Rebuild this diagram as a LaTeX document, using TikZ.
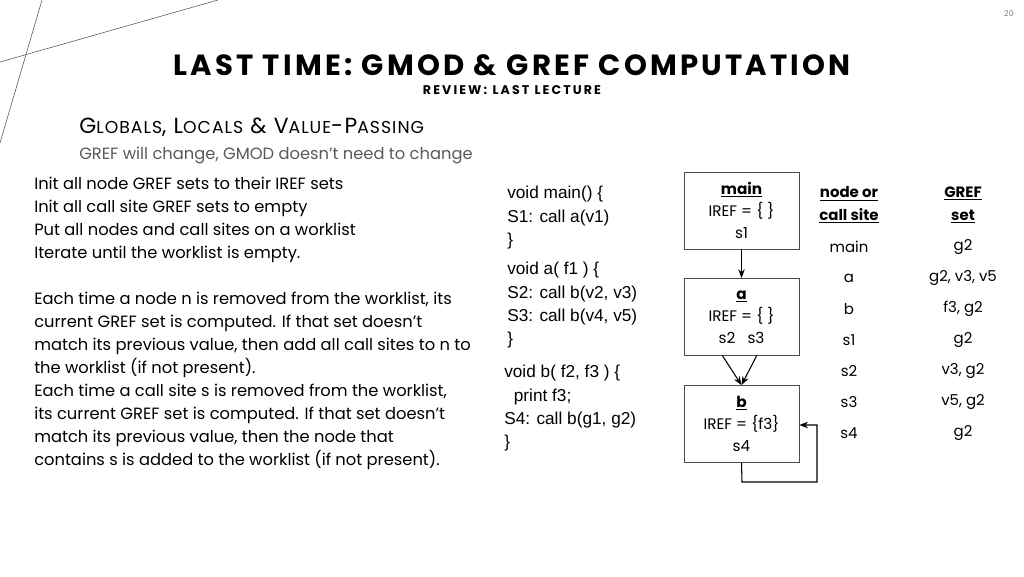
\documentclass[tikz,border=0pt]{standalone}
\usepackage{fontspec}
\setmainfont{Poppins}
\newfontfamily\codefont{Liberation Sans}
\newfontfamily\spacedfont[LetterSpace=6]{Poppins}
\newfontfamily\widefont[LetterSpace=11]{Poppins}
\usetikzlibrary{arrows.meta}
\tikzstyle{box} = [rectangle, draw=black!70, minimum width=3.05cm, minimum height=2.05cm, align=center, font=\fontsize{11.5}{16.5}\selectfont]
\tikzstyle{arrow} = [thick,->,>=Stealth]
\tikzstyle{txt} = [anchor=west, inner sep=0pt, font=\fontsize{12.3}{17.3}\selectfont, align=left]
\tikzstyle{code} = [anchor=west, inner sep=0pt, font=\codefont\fontsize{13}{17.6}\selectfont, align=left]
\tikzstyle{cell} = [inner sep=0pt, font=\fontsize{11.3}{12}\selectfont]
\newcommand{\sck}[1]{{\fontsize{13}{14}\selectfont #1}}
\begin{document}
\begin{tikzpicture}[x=0.0265cm,y=-0.0265cm]
  \useasboundingbox (0,0) rectangle (1024,576);
  % decoration
  \draw[black!70] (0,62) -- (218,0);
  \draw[black!70] (0,143) -- (42,0);
  \node[cell, text=black!50, font=\fontsize{6}{7}\selectfont] (page) at (1009,14) {20};
  % titles
  \node[inner sep=0pt, font=\widefont\fontsize{22}{24}\bfseries\selectfont] (title) at (512,65) {LAST TIME: GMOD \& GREF COMPUTATION};
  \node[inner sep=0pt, font=\fontsize{9.5}{11}\bfseries\selectfont] (sub) at (512,90) {R\,E\,V\,I\,E\,W\,:\ \ L\,A\,S\,T\ \ L\,E\,C\,T\,U\,R\,E};
  \node[txt, font=\spacedfont\fontsize{16.5}{18}\selectfont] (sect) at (79,127) {G\sck{LOBALS}, L\sck{OCALS} \& V\sck{ALUE}-P\sck{ASSING}};
  \node[txt, text=black!65] (note) at (79,155) {GREF will change, GMOD doesn’t need to change};
  % left text
  \node[txt, anchor=north west] (steps) at (34,177) {Init all node GREF sets to their IREF sets\\Init all call site GREF sets to empty\\Put all nodes and call sites on a worklist\\Iterate until the worklist is empty.};
  \node[txt, anchor=north west] (rules) at (34,292) {Each time a node n is removed from the worklist, its\\current GREF set is computed. If that set doesn't\\match its previous value, then add all call sites to n to\\the worklist (if not present).\\Each time a call site s is removed from the worklist,\\its current GREF set is computed. If that set doesn't\\match its previous value, then the node that\\contains s is added to the worklist (if not present).};
  % code
  \node[code, anchor=north west] (cmain) at (507,186) {void main() \{\\S1: call a(v1)\\\}};
  \node[code, anchor=north west] (ca) at (507,262) {void a( f1 ) \{\\S2: call b(v2, v3)\\S3: call b(v4, v5)\\\}};
  \node[code, anchor=north west] (cb) at (504,365) {void b( f2, f3 ) \{\\\ \ print f3;\\S4: call b(g1, g2)\\\}};
  % call graph
  \node[box] (main) at (741.5,210.5) {\underline{\textbf{main}}\\IREF = \{ \}\\s1};
  \node[box] (a) at (741.5,317) {\underline{\textbf{a}}\\IREF = \{ \}\\s2\ \ \ s3};
  \node[box] (b) at (741.5,424) {\underline{\textbf{b}}\\IREF = \{f3\}\\s4};
  \coordinate (loop1) at (742,482);
  \coordinate (loop2) at (817,482);
  \coordinate (loop3) at (817,425);
  \draw[arrow] (main) -- (a);
  \draw[arrow] (722,355) -- (b.north);
  \draw[arrow] (757,355) -- (b.north);
  \draw[arrow] (b.south) -- (loop1) -- (loop2) -- (loop3) -- (b.east |- loop3);
  % table
  \node[cell, align=center, font=\fontsize{11.3}{17}\bfseries\selectfont] (h1) at (849,205) {\underline{node or}\\\underline{call site}};
  \node[cell, align=center, font=\fontsize{11.3}{17}\bfseries\selectfont] (h2) at (963,205) {\underline{GREF}\\\underline{set}};
  \foreach \n/\g [count=\i] in {main/g2, a/{g2, v3, v5}, b/{f3, g2}, s1/g2, s2/{v3, g2}, s3/{v5, g2}, s4/g2} {
    \node[cell] (n\i) at (849,216+31*\i) {\n};
    \node[cell] (g\i) at (963,216+31*\i) {\g};
  }
\end{tikzpicture}
\end{document}
